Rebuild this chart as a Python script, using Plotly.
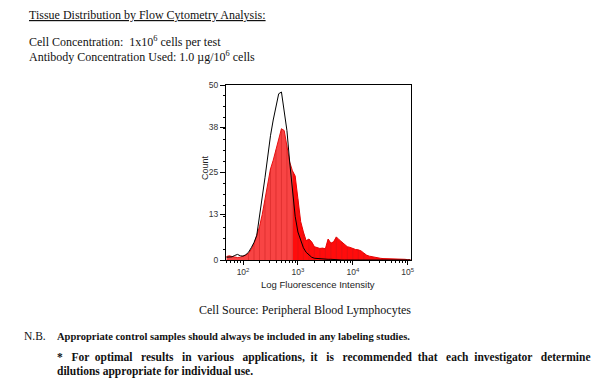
import plotly.graph_objects as go

# ---- data ----
log_bins = [1.70, 1.75, 1.80, 1.85, 1.90, 1.95, 2.00, 2.05, 2.10, 2.15, 2.20, 2.25, 2.30, 2.35,
            2.40, 2.45, 2.50, 2.55, 2.60, 2.65, 2.70, 2.75, 2.80, 2.85, 2.90, 2.95, 3.00, 3.05,
            3.10, 3.15, 3.20, 3.25, 3.30, 3.35, 3.40, 3.45, 3.50, 3.55, 3.60, 3.65, 3.70, 3.75,
            3.80, 3.85, 3.90, 3.95, 4.00, 4.05, 4.10, 4.15, 4.20, 4.25, 4.30, 4.35, 4.40, 4.45,
            4.50, 4.55, 4.60, 4.65, 4.70, 4.75, 4.80, 4.85, 4.90, 4.95, 5.00, 5.05]
stained_counts = [1.0, 1.2, 1.0, 0.8, 0.7, 0.8, 1.0, 1.4, 1.9, 3.0, 4.6, 6.8, 9.5, 13.0,
                  17.0, 21.5, 26.0, 28.5, 31.5, 34.0, 37.5, 37.0, 33.0, 28.0, 25.5, 24.0, 17.5, 11.0,
                  8.0, 5.5, 6.0, 5.2, 3.8, 3.5, 3.3, 3.4, 3.2, 6.0, 4.8, 5.2, 6.6, 5.8,
                  5.2, 4.6, 3.8, 3.6, 3.2, 3.0, 2.9, 2.6, 2.0, 1.4, 1.1, 0.9, 0.7, 0.6,
                  0.5, 0.4, 0.4, 0.3, 0.3, 0.2, 0.3, 0.2, 0.2, 0.2, 0.1, 0.1]
control_counts = [0.8, 0.9, 0.9, 1.3, 1.6, 1.2, 1.1, 1.5, 2.2, 3.5, 5.0, 7.0, 12.0, 18.0,
                  23.5, 30.0, 35.5, 40.0, 43.5, 47.5, 48.0, 42.0, 37.0, 28.0, 20.0, 12.5, 8.0, 5.5,
                  3.5, 2.2, 1.4, 0.8, 0.5, 0.4, 0.3, 0.3, 0.2, 0.2, 0.2, 0.1, 0.1, 0.0,
                  0.0, 0.0, 0.0, 0.0, 0.0, 0.0, 0.0, 0.0, 0.0, 0.0, 0.0, 0.0, 0.0, 0.0,
                  0.0, 0.0, 0.0, 0.0, 0.0, 0.0, 0.0, 0.0, 0.0, 0.0, 0.0, 0.0]
y_ticks = [0, 13, 25, 38, 50]
x_ticks = [1e2, 1e3, 1e4, 1e5]
x_ticktext = ["10<sup>2</sup>", "10<sup>3</sup>", "10<sup>4</sup>", "10<sup>5</sup>"]
split_log = 2.90  # colour change of the stained fill

intensity = [10 ** v for v in log_bins]

W, H = 600, 387
PL, PR, PT, PB = 226, 411, 85, 260

fig = go.Figure()
# lighter left part and saturated right part of the stained histogram
left_idx = [i for i, v in enumerate(log_bins) if v <= split_log]
right_idx = [i for i, v in enumerate(log_bins) if v >= split_log]
fig.add_trace(go.Scatter(x=[intensity[i] for i in left_idx], y=[stained_counts[i] for i in left_idx],
                         mode="lines", fill="tozeroy", fillcolor="#f84444",
                         line=dict(color="#e81010", width=1), hoverinfo="skip", showlegend=False))
fig.add_trace(go.Scatter(x=[intensity[i] for i in right_idx], y=[stained_counts[i] for i in right_idx],
                         mode="lines", fill="tozeroy", fillcolor="#ff0c0c",
                         line=dict(color="#e80000", width=1), hoverinfo="skip", showlegend=False))
# faint bar stripes of the histogram
sx, sy = [], []
for i in range(0, len(log_bins), 2):
    if stained_counts[i] > 1.5:
        sx += [intensity[i], intensity[i], None]
        sy += [0, stained_counts[i], None]
fig.add_trace(go.Scatter(x=sx, y=sy, mode="lines", line=dict(color="#c41818", width=0.7),
                         opacity=0.6, hoverinfo="skip", showlegend=False))
fig.add_trace(go.Scatter(x=intensity, y=control_counts, mode="lines",
                         line=dict(color="black", width=1),
                         hoverinfo="skip", showlegend=False))

axis_font = dict(family="Liberation Sans, Arial", size=8.5, color="#333")
fig.update_xaxes(type="log", range=[1.69, 5.06], tickvals=x_ticks, ticktext=x_ticktext,
                 ticks="outside", ticklen=4, tickcolor="black", showgrid=False, zeroline=False,
                 showline=True, linecolor="black", linewidth=1, mirror=True,
                 tickfont=axis_font,
                 minor=dict(ticks="outside", ticklen=2, tickcolor="black", dtick="D1", showgrid=False))
fig.update_yaxes(range=[0, 50], tickvals=y_ticks, ticks="outside", ticklen=5, tickcolor="black",
                 showgrid=False, zeroline=False, showline=True, linecolor="black", linewidth=1,
                 mirror=True, tickfont=axis_font,
                 minor=dict(ticks="outside", ticklen=2, tickcolor="black", tick0=0, dtick=3.125,
                            showgrid=False))


def px(x, y):
    return (x - PL) / (PR - PL), (PB - y) / (PB - PT)


sans = "Liberation Sans, Arial, sans-serif"
for x, y, t, s, ang in [(205, 168, "Count", 9, -90),
                        (318, 284, "Log Fluorescence Intensity", 9.5, 0)]:
    ax, ay = px(x, y)
    fig.add_annotation(x=ax, y=ay, xref="paper", yref="paper", text=t, showarrow=False,
                       xanchor="center", yanchor="middle", textangle=ang,
                       font=dict(family=sans, size=s, color="#222"))

serif = "Liberation Serif, Times New Roman, serif"
gap2 = " &nbsp;&nbsp;"
gap1 = " &nbsp;"
words = ["*", "For", "optimal", "results", "in", "various", "applications,", "it", "is",
         "recommended", "that", "each", "investigator", "determine"]
gap_kind = [2, 1, 2, 2, 1, 2, 1, 2, 2, 1, 2, 1, 2]
line2 = words[0]
for w, g in zip(words[1:], gap_kind):
    line2 += (gap2 if g == 2 else gap1) + w

texts = [
    (27, 15, "<u>Tissue Distribution by Flow Cytometry Analysis:</u>", 12, "left"),
    (27, 42, "Cell Concentration:  1x10<sup>6</sup> cells per test", 12, "left"),
    (27, 56, "Antibody Concentration Used: 1.0 µg/10<sup>6</sup> cells", 12, "left"),
    (305, 310, "Cell Source: Peripheral Blood Lymphocytes", 12, "center"),
    (22, 336, "N.B.", 11.5, "left"),
    (55, 336, "<b>Appropriate control samples should always be included in any labeling studies.</b>", 10.5, "left"),
    (55, 357, "<b>" + line2 + "</b>", 11.5, "left"),
    (55, 371, "<b>dilutions appropriate for individual use.</b>", 11.5, "left"),
]
for x, y, t, s, anchor in texts:
    ax, ay = px(x, y)
    fig.add_annotation(x=ax, y=ay, xref="paper", yref="paper", text=t, showarrow=False,
                       xanchor=anchor, yanchor="middle",
                       font=dict(family=serif, size=s, color="#111"))

fig.update_layout(width=W, height=H, margin=dict(l=PL, r=W - PR, t=PT, b=H - PB),
                  plot_bgcolor="white", paper_bgcolor="white")
fig.write_html("out.html", config={"displayModeBar": False},
               post_script="document.body.style.margin='0';document.body.style.overflow='hidden';")
